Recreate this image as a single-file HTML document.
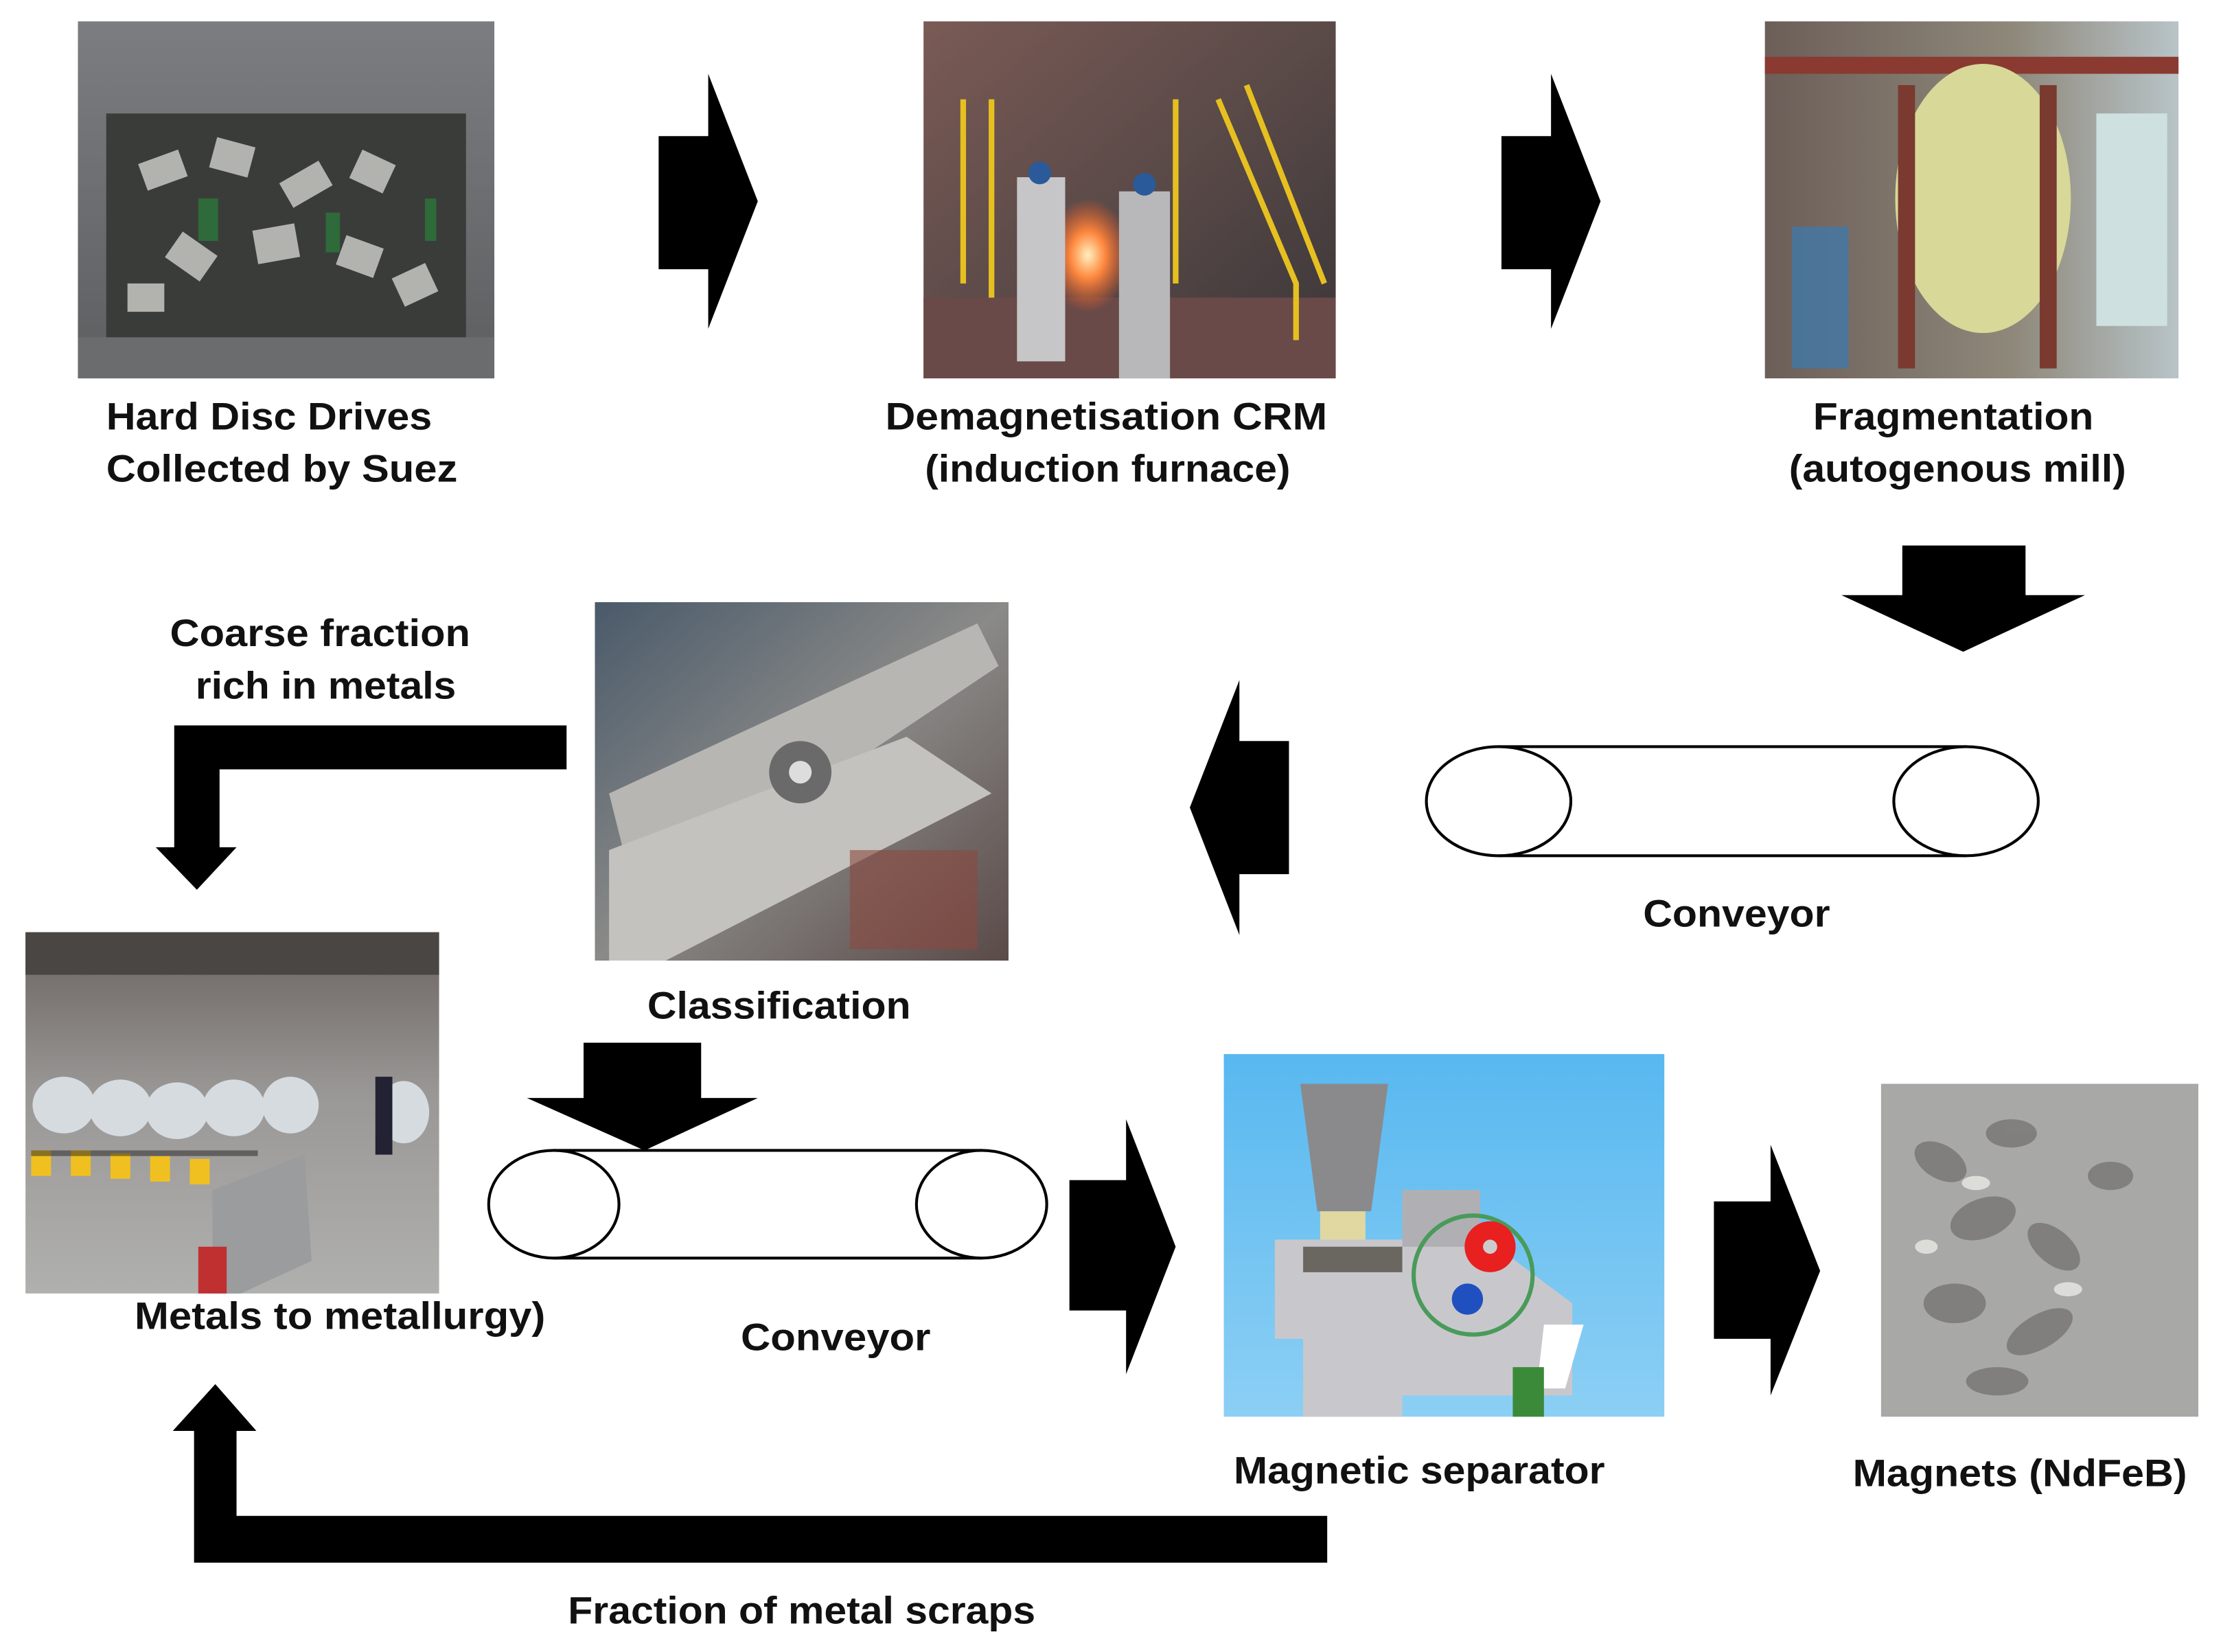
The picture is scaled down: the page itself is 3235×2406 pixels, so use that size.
<!DOCTYPE html>
<html><head><meta charset="utf-8"><style>
html,body{margin:0;padding:0;background:#fff;}
svg{display:block;}
text{font-family:"Liberation Sans",sans-serif;font-weight:bold;fill:#111;font-size:27px;}
</style></head><body>
<svg width="3235" height="2406" viewBox="0 0 1568 1166" xmlns="http://www.w3.org/2000/svg">
<defs>
<linearGradient id="bin" x1="0" y1="0" x2="0" y2="1"><stop offset="0" stop-color="#7b7d80"/><stop offset="1" stop-color="#5c5e60"/></linearGradient>
<linearGradient id="furn" x1="0" y1="0" x2="1" y2="1"><stop offset="0" stop-color="#7a5a55"/><stop offset="0.5" stop-color="#5a4a48"/><stop offset="1" stop-color="#3a3538"/></linearGradient>
<radialGradient id="fire" cx="0.5" cy="0.5" r="0.5"><stop offset="0" stop-color="#fff0c0"/><stop offset="0.4" stop-color="#ff8a40"/><stop offset="1" stop-color="#ff5a20" stop-opacity="0"/></radialGradient>
<linearGradient id="mill" x1="0" y1="0" x2="1" y2="0"><stop offset="0" stop-color="#6c5e58"/><stop offset="0.6" stop-color="#8e887a"/><stop offset="1" stop-color="#b8c4c8"/></linearGradient>
<linearGradient id="cls" x1="0" y1="0" x2="1" y2="1"><stop offset="0" stop-color="#4a5a6a"/><stop offset="0.5" stop-color="#8a8a88"/><stop offset="1" stop-color="#5a4a48"/></linearGradient>
<linearGradient id="wh" x1="0" y1="0" x2="0" y2="1"><stop offset="0" stop-color="#6a6260"/><stop offset="0.45" stop-color="#9a9896"/><stop offset="1" stop-color="#b0b0ae"/></linearGradient>
<linearGradient id="sky" x1="0" y1="0" x2="0" y2="1"><stop offset="0" stop-color="#58b8f0"/><stop offset="1" stop-color="#8ccff4"/></linearGradient>
<linearGradient id="mag" x1="0" y1="0" x2="1" y2="1"><stop offset="0" stop-color="#8a8886"/><stop offset="0.5" stop-color="#a8a6a4"/><stop offset="1" stop-color="#7a7876"/></linearGradient>
</defs>

<!-- Photo 1: HDD bin -->
<rect x="55" y="15" width="294" height="252" fill="url(#bin)"/>
<rect x="75" y="80" width="254" height="160" fill="#3a3c3a"/>
<g fill="#c8c8c4" opacity="0.85">
<rect x="100" y="110" width="30" height="20" transform="rotate(-20 115 120)"/>
<rect x="150" y="100" width="28" height="22" transform="rotate(15 164 111)"/>
<rect x="200" y="120" width="32" height="20" transform="rotate(-30 216 130)"/>
<rect x="250" y="110" width="26" height="22" transform="rotate(25 263 121)"/>
<rect x="120" y="170" width="30" height="22" transform="rotate(35 135 181)"/>
<rect x="180" y="160" width="30" height="24" transform="rotate(-10 195 172)"/>
<rect x="240" y="170" width="28" height="22" transform="rotate(20 254 181)"/>
<rect x="90" y="200" width="26" height="20"/>
<rect x="280" y="190" width="26" height="22" transform="rotate(-25 293 201)"/>
</g>
<g fill="#2e6a3a"><rect x="140" y="140" width="14" height="30"/><rect x="230" y="150" width="10" height="28"/><rect x="300" y="140" width="8" height="30"/></g>
<rect x="55" y="238" width="294" height="29" fill="#6a6c6e"/>

<!-- Arrow 1 -->
<polygon points="465,96 500,96 500,52 535,142 500,232 500,190 465,190" fill="#000"/>

<!-- Photo 2: furnace -->
<rect x="652" y="15" width="291" height="252" fill="url(#furn)"/>
<rect x="652" y="210" width="291" height="57" fill="#6a4a48"/>
<ellipse cx="768" cy="180" rx="30" ry="40" fill="url(#fire)"/>
<g stroke="#e6c020" stroke-width="4" fill="none"><path d="M860 70 L915 200 L915 240"/><path d="M880 60 L935 200"/><path d="M680 70 L680 200"/><path d="M700 70 L700 210"/><path d="M830 70 L830 200"/></g>
<rect x="718" y="125" width="34" height="130" fill="#c6c6c8"/>
<rect x="790" y="135" width="36" height="132" fill="#b8b8ba"/>
<circle cx="734" cy="122" r="8" fill="#2a5a9a"/><circle cx="808" cy="130" r="8" fill="#2a5a9a"/>

<!-- Arrow 2 -->
<polygon points="1060,96 1095,96 1095,52 1130,142 1095,232 1095,190 1060,190" fill="#000"/>

<!-- Photo 3: mill -->
<rect x="1246" y="15" width="292" height="252" fill="url(#mill)"/>
<rect x="1246" y="40" width="292" height="12" fill="#8a3a30"/>
<ellipse cx="1400" cy="140" rx="62" ry="95" fill="#d8d898"/>
<rect x="1340" y="60" width="12" height="200" fill="#7a3a30"/>
<rect x="1440" y="60" width="12" height="200" fill="#7a3a30"/>
<rect x="1265" y="160" width="40" height="100" fill="#3a7ab0" opacity="0.7"/>
<rect x="1480" y="80" width="50" height="150" fill="#cfe0e0"/>

<!-- Labels row 1 -->
<text x="190" y="303" text-anchor="middle" textLength="230" lengthAdjust="spacingAndGlyphs">Hard Disc Drives</text>
<text x="199" y="340" text-anchor="middle" textLength="248" lengthAdjust="spacingAndGlyphs">Collected by Suez</text>
<text x="781" y="303" text-anchor="middle" textLength="312" lengthAdjust="spacingAndGlyphs">Demagnetisation  CRM</text>
<text x="782" y="340" text-anchor="middle" textLength="258" lengthAdjust="spacingAndGlyphs">(induction furnace)</text>
<text x="1379" y="303" text-anchor="middle" textLength="198" lengthAdjust="spacingAndGlyphs">Fragmentation</text>
<text x="1382" y="340" text-anchor="middle" textLength="238" lengthAdjust="spacingAndGlyphs">(autogenous mill)</text>

<!-- Down arrow after fragmentation -->
<polygon points="1343,385 1430,385 1430,420 1472,420 1386,460 1300,420 1343,420" fill="#000"/>

<!-- Conveyor 1 -->
<g fill="#fff" stroke="#000" stroke-width="2">
<rect x="1058" y="527" width="330" height="77" stroke="none"/>
<line x1="1058" y1="527" x2="1388" y2="527"/><line x1="1058" y1="604" x2="1388" y2="604"/>
<ellipse cx="1058" cy="565.5" rx="51" ry="38.5"/><ellipse cx="1388" cy="565.5" rx="51" ry="38.5"/>
</g>
<text x="1226" y="654" text-anchor="middle" textLength="132" lengthAdjust="spacingAndGlyphs">Conveyor</text>

<!-- Left arrow -->
<polygon points="910,523 875,523 875,480 840,570 875,660 875,617 910,617" fill="#000"/>

<!-- Classification photo -->
<rect x="420" y="425" width="292" height="253" fill="url(#cls)"/>
<polygon points="430,560 690,440 705,470 450,640" fill="#b8b6b2"/>
<polygon points="430,600 640,520 700,560 470,678 430,678" fill="#c4c2be"/>
<circle cx="565" cy="545" r="22" fill="#6a6a6a"/><circle cx="565" cy="545" r="8" fill="#ddd"/>
<rect x="600" y="600" width="90" height="70" fill="#8a4a40" opacity="0.6"/>
<text x="550" y="719" text-anchor="middle" textLength="186" lengthAdjust="spacingAndGlyphs">Classification</text>

<!-- Coarse fraction label and L arrow -->
<text x="226" y="456" text-anchor="middle" textLength="212" lengthAdjust="spacingAndGlyphs">Coarse fraction</text>
<text x="230" y="493" text-anchor="middle" textLength="184" lengthAdjust="spacingAndGlyphs">rich in metals</text>
<polygon points="400,512 400,543 155,543 155,598 167,598 139,628 110,598 123,598 123,512" fill="#000"/>

<!-- Metals photo -->
<rect x="18" y="658" width="292" height="255" fill="url(#wh)"/>
<rect x="18" y="658" width="292" height="30" fill="#4a4644"/>
<g fill="#d6dbe0"><ellipse cx="45" cy="780" rx="22" ry="20"/><ellipse cx="85" cy="782" rx="22" ry="20"/><ellipse cx="125" cy="784" rx="22" ry="20"/><ellipse cx="165" cy="782" rx="22" ry="20"/><ellipse cx="205" cy="780" rx="20" ry="20"/><ellipse cx="285" cy="785" rx="18" ry="22"/></g>
<g fill="#f0c020"><rect x="22" y="812" width="14" height="18"/><rect x="50" y="812" width="14" height="18"/><rect x="78" y="814" width="14" height="18"/><rect x="106" y="816" width="14" height="18"/><rect x="134" y="818" width="14" height="18"/></g>
<rect x="22" y="812" width="160" height="4" fill="#222" opacity="0.5"/>
<polygon points="150,840 215,815 220,890 170,913 150,913" fill="#9a9c9e"/>
<rect x="140" y="880" width="20" height="33" fill="#c03030"/>
<rect x="265" y="760" width="12" height="55" fill="#223"/>
<text x="240" y="938" text-anchor="middle" textLength="290" lengthAdjust="spacingAndGlyphs">Metals to metallurgy)</text>

<!-- Down arrow onto conveyor 2 -->
<polygon points="412,736 495,736 495,775 535,775 455,812 372,775 412,775" fill="#000"/>

<!-- Conveyor 2 -->
<g fill="#fff" stroke="#000" stroke-width="2">
<rect x="391" y="812" width="302" height="76" stroke="none"/>
<line x1="391" y1="812" x2="693" y2="812"/><line x1="391" y1="888" x2="693" y2="888"/>
<ellipse cx="391" cy="850" rx="46" ry="38"/><ellipse cx="693" cy="850" rx="46" ry="38"/>
</g>
<text x="590" y="953" text-anchor="middle" textLength="134" lengthAdjust="spacingAndGlyphs">Conveyor</text>

<!-- Right arrow to magnetic separator -->
<polygon points="755,833 795,833 795,790 830,880 795,970 795,925 755,925" fill="#000"/>

<!-- Magnetic separator image -->
<rect x="864" y="744" width="311" height="256" fill="url(#sky)"/>
<polygon points="918,765 980,765 968,855 930,855" fill="#8a8a8c"/>
<rect x="932" y="855" width="32" height="22" fill="#e0d8a0"/>
<polygon points="900,875 1050,875 1110,920 1110,985 990,985 990,1000 920,1000 920,945 900,945" fill="#c8c8cc"/>
<rect x="990" y="840" width="55" height="40" fill="#b0b0b4"/>
<rect x="920" y="880" width="70" height="18" fill="#6a6660"/>
<circle cx="1040" cy="900" r="42" fill="none" stroke="#4a9a5a" stroke-width="3"/>
<circle cx="1052" cy="880" r="18" fill="#e82020"/><circle cx="1052" cy="880" r="5" fill="#ccc"/>
<circle cx="1036" cy="917" r="11" fill="#2050c0"/>
<polygon points="1090,935 1118,935 1105,980 1085,980" fill="#fff"/>
<rect x="1068" y="965" width="22" height="35" fill="#3a8a3a"/>
<text x="1002" y="1047" text-anchor="middle" textLength="262" lengthAdjust="spacingAndGlyphs">Magnetic separator</text>

<!-- Right arrow to magnets -->
<polygon points="1210,848 1250,848 1250,808 1285,897 1250,985 1250,945 1210,945" fill="#000"/>

<!-- Magnets image -->
<rect x="1328" y="765" width="224" height="235" fill="#a8a8a6"/>
<g fill="#787674" opacity="0.8">
<ellipse cx="1370" cy="820" rx="20" ry="12" transform="rotate(30 1370 820)"/>
<ellipse cx="1420" cy="800" rx="18" ry="10"/>
<ellipse cx="1400" cy="860" rx="24" ry="14" transform="rotate(-20 1400 860)"/>
<ellipse cx="1450" cy="880" rx="22" ry="12" transform="rotate(40 1450 880)"/>
<ellipse cx="1380" cy="920" rx="22" ry="14"/>
<ellipse cx="1440" cy="940" rx="26" ry="12" transform="rotate(-30 1440 940)"/>
<ellipse cx="1490" cy="830" rx="16" ry="10"/>
<ellipse cx="1410" cy="975" rx="22" ry="10"/>
</g>
<g fill="#e8e8e6" opacity="0.8"><ellipse cx="1395" cy="835" rx="10" ry="5"/><ellipse cx="1460" cy="910" rx="10" ry="5"/><ellipse cx="1360" cy="880" rx="8" ry="5"/></g>
<text x="1426" y="1049" text-anchor="middle" textLength="236" lengthAdjust="spacingAndGlyphs">Magnets (NdFeB)</text>

<!-- Bottom return arrow -->
<polygon points="937,1070 937,1103 137,1103 137,1010 122,1010 152,977 181,1010 167,1010 167,1070" fill="#000"/>
<text x="566" y="1146" text-anchor="middle" textLength="330" lengthAdjust="spacingAndGlyphs">Fraction of metal scraps</text>
</svg>
</body></html>
